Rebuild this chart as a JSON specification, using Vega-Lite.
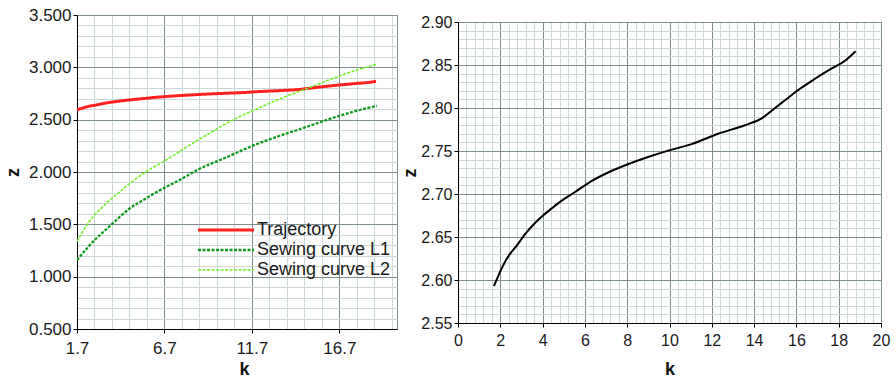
{
  "$schema": "https://vega.github.io/schema/vega-lite/v6.json",
  "background": "white",
  "padding": {"left": 3, "top": 5, "right": 5, "bottom": 2},
  "spacing": 3,
  "config": {
    "font": "Liberation Sans",
    "view": {"stroke": "#7d8c8c"},
    "axis": {
      "labelFont": "Liberation Sans",
      "labelFontSize": 17,
      "labelColor": "#1a1a1a",
      "titleFont": "Liberation Sans",
      "titleFontSize": 18,
      "titleFontWeight": "bold",
      "titleColor": "#111111",
      "domainColor": "#000000",
      "domainWidth": 1,
      "tickColor": "#000000",
      "tickSize": 4,
      "gridWidth": 1,
      "labelOverlap": false,
      "labelFlush": false
    }
  },
  "datasets": {
    "curves": [
      {"series": "Trajectory", "k": 1.70, "z": 2.593},
      {"series": "Trajectory", "k": 1.89, "z": 2.604},
      {"series": "Trajectory", "k": 2.29, "z": 2.624},
      {"series": "Trajectory", "k": 2.84, "z": 2.642},
      {"series": "Trajectory", "k": 3.16, "z": 2.653},
      {"series": "Trajectory", "k": 3.63, "z": 2.666},
      {"series": "Trajectory", "k": 4.02, "z": 2.675},
      {"series": "Trajectory", "k": 4.42, "z": 2.683},
      {"series": "Trajectory", "k": 4.89, "z": 2.692},
      {"series": "Trajectory", "k": 5.52, "z": 2.702},
      {"series": "Trajectory", "k": 6.31, "z": 2.715},
      {"series": "Trajectory", "k": 7.10, "z": 2.725},
      {"series": "Trajectory", "k": 7.97, "z": 2.734},
      {"series": "Trajectory", "k": 8.99, "z": 2.743},
      {"series": "Trajectory", "k": 10.02, "z": 2.751},
      {"series": "Trajectory", "k": 11.04, "z": 2.758},
      {"series": "Trajectory", "k": 12.30, "z": 2.770},
      {"series": "Trajectory", "k": 13.57, "z": 2.780},
      {"series": "Trajectory", "k": 14.36, "z": 2.788},
      {"series": "Trajectory", "k": 14.99, "z": 2.800},
      {"series": "Trajectory", "k": 15.46, "z": 2.809},
      {"series": "Trajectory", "k": 16.09, "z": 2.821},
      {"series": "Trajectory", "k": 16.88, "z": 2.834},
      {"series": "Trajectory", "k": 17.67, "z": 2.846},
      {"series": "Trajectory", "k": 18.30, "z": 2.855},
      {"series": "Trajectory", "k": 18.80, "z": 2.866},
      {"series": "Sewing curve L1", "k": 1.70, "z": 1.158},
      {"series": "Sewing curve L1", "k": 2.37, "z": 1.290},
      {"series": "Sewing curve L1", "k": 3.70, "z": 1.502},
      {"series": "Sewing curve L1", "k": 4.66, "z": 1.645},
      {"series": "Sewing curve L1", "k": 5.62, "z": 1.745},
      {"series": "Sewing curve L1", "k": 6.38, "z": 1.820},
      {"series": "Sewing curve L1", "k": 7.53, "z": 1.920},
      {"series": "Sewing curve L1", "k": 8.67, "z": 2.027},
      {"series": "Sewing curve L1", "k": 10.20, "z": 2.137},
      {"series": "Sewing curve L1", "k": 11.72, "z": 2.249},
      {"series": "Sewing curve L1", "k": 13.25, "z": 2.344},
      {"series": "Sewing curve L1", "k": 14.78, "z": 2.428},
      {"series": "Sewing curve L1", "k": 16.30, "z": 2.515},
      {"series": "Sewing curve L1", "k": 17.65, "z": 2.583},
      {"series": "Sewing curve L1", "k": 18.85, "z": 2.631},
      {"series": "Sewing curve L2", "k": 1.70, "z": 1.335},
      {"series": "Sewing curve L2", "k": 2.37, "z": 1.520},
      {"series": "Sewing curve L2", "k": 3.33, "z": 1.693},
      {"series": "Sewing curve L2", "k": 4.28, "z": 1.830},
      {"series": "Sewing curve L2", "k": 5.62, "z": 2.000},
      {"series": "Sewing curve L2", "k": 6.76, "z": 2.110},
      {"series": "Sewing curve L2", "k": 7.91, "z": 2.233},
      {"series": "Sewing curve L2", "k": 9.43, "z": 2.385},
      {"series": "Sewing curve L2", "k": 10.58, "z": 2.495},
      {"series": "Sewing curve L2", "k": 11.72, "z": 2.583},
      {"series": "Sewing curve L2", "k": 13.25, "z": 2.695},
      {"series": "Sewing curve L2", "k": 14.78, "z": 2.793},
      {"series": "Sewing curve L2", "k": 16.30, "z": 2.891},
      {"series": "Sewing curve L2", "k": 17.65, "z": 2.971},
      {"series": "Sewing curve L2", "k": 18.85, "z": 3.029}
    ]
  },
  "hconcat": [
    {
      "width": 320,
      "height": 314,
      "data": {"name": "curves"},
      "mark": {"type": "line", "interpolate": "monotone", "clip": true},
      "encoding": {
        "x": {
          "field": "k",
          "type": "quantitative",
          "scale": {"domain": [1.7, 20], "nice": false, "zero": false},
          "axis": {
            "title": "k",
            "titleX": 167,
            "titlePadding": 4,
            "labelPadding": 7,
            "values": [1.7, 2.7, 3.7, 4.7, 5.7, 6.7, 7.7, 8.7, 9.7, 10.7, 11.7, 12.7, 13.7, 14.7, 15.7, 16.7, 17.7, 18.7, 19.7],
            "labelExpr": "abs((datum.value - 1.7) / 5 - round((datum.value - 1.7) / 5)) < 0.01 ? format(datum.value, '.1f') : ''",
            "gridColor": {"condition": {"test": "abs((datum.value - 1.7) / 5 - round((datum.value - 1.7) / 5)) < 0.01", "value": "#7d8c8c"}, "value": "#cbd8d7"},
            "tickOpacity": {"condition": {"test": "abs((datum.value - 1.7) / 5 - round((datum.value - 1.7) / 5)) < 0.01", "value": 1}, "value": 0}
          }
        },
        "y": {
          "field": "z",
          "type": "quantitative",
          "scale": {"domain": [0.5, 3.5], "nice": false, "zero": false},
          "axis": {
            "title": "z",
            "titlePadding": 6,
            "labelPadding": 2,
            "values": [0.5, 0.6, 0.7, 0.8, 0.9, 1.0, 1.1, 1.2, 1.3, 1.4, 1.5, 1.6, 1.7, 1.8, 1.9, 2.0, 2.1, 2.2, 2.3, 2.4, 2.5, 2.6, 2.7, 2.8, 2.9, 3.0, 3.1, 3.2, 3.3, 3.4, 3.5],
            "labelExpr": "abs(datum.value * 2 - round(datum.value * 2)) < 0.01 ? format(datum.value, '.3f') : ''",
            "gridColor": {"condition": {"test": "abs(datum.value * 2 - round(datum.value * 2)) < 0.01", "value": "#7d8c8c"}, "value": "#cbd8d7"},
            "tickOpacity": {"condition": {"test": "abs(datum.value * 2 - round(datum.value * 2)) < 0.01", "value": 1}, "value": 0}
          }
        },
        "color": {
          "field": "series",
          "type": "nominal",
          "scale": {"domain": ["Trajectory", "Sewing curve L1", "Sewing curve L2"], "range": ["#ff2020", "#12991f", "#72f02a"]},
          "legend": {
            "title": null,
            "orient": "none",
            "legendX": 140,
            "legendY": 206,
            "symbolType": "M-4,0H4",
            "symbolSize": 196,
            "symbolStrokeWidth": 3,
            "labelFont": "Liberation Sans",
            "labelFontSize": 18,
            "labelColor": "#1a1a1a",
            "labelOffset": 22,
            "rowPadding": 2,
            "encode": {
              "symbols": {
                "update": {
                  "strokeDash": {"signal": "datum.value === 'Trajectory' ? [1, 0] : [5, 6]"},
                  "strokeWidth": {"signal": "datum.value === 'Trajectory' ? 4.5 : 3"}
                }
              }
            }
          }
        },
        "strokeDash": {
          "field": "series",
          "type": "nominal",
          "scale": {"domain": ["Trajectory", "Sewing curve L1", "Sewing curve L2"], "range": [[1, 0], [3, 1.5], [3, 1.5]]},
          "legend": null
        },
        "strokeWidth": {
          "field": "series",
          "type": "nominal",
          "scale": {"domain": ["Trajectory", "Sewing curve L1", "Sewing curve L2"], "range": [3, 1.6, 1.6]},
          "legend": null
        }
      }
    },
    {
      "spacing": -3,
      "vconcat": [
        {
          "width": 423,
          "height": 1,
          "data": {"values": []},
          "mark": "point",
          "view": {"stroke": null}
        },
        {
          "width": 423,
          "height": 301,
          "data": {"name": "curves"},
          "transform": [{"filter": "datum.series === 'Trajectory'"}],
          "mark": {"type": "line", "interpolate": "monotone", "color": "#000000", "strokeWidth": 2},
          "encoding": {
            "x": {
              "field": "k",
              "type": "quantitative",
              "scale": {"domain": [0, 20], "nice": false, "zero": false},
              "axis": {
                "title": "k",
                "titlePadding": 12,
                "labelPadding": 5,
                "labelFontSize": 16,
                "values": [0, 0.4, 0.8, 1.2, 1.6, 2, 2.4, 2.8, 3.2, 3.6, 4, 4.4, 4.8, 5.2, 5.6, 6, 6.4, 6.8, 7.2, 7.6, 8, 8.4, 8.8, 9.2, 9.6, 10, 10.4, 10.8, 11.2, 11.6, 12, 12.4, 12.8, 13.2, 13.6, 14, 14.4, 14.8, 15.2, 15.6, 16, 16.4, 16.8, 17.2, 17.6, 18, 18.4, 18.8, 19.2, 19.6, 20],
                "labelExpr": "abs(datum.value / 2 - round(datum.value / 2)) < 0.01 ? format(datum.value, 'd') : ''",
                "gridColor": {"condition": {"test": "abs(datum.value / 2 - round(datum.value / 2)) < 0.01", "value": "#7d8c8c"}, "value": "#cbd8d7"},
                "tickOpacity": {"condition": {"test": "abs(datum.value / 2 - round(datum.value / 2)) < 0.01", "value": 1}, "value": 0}
              }
            },
            "y": {
              "field": "z",
              "type": "quantitative",
              "scale": {"domain": [2.55, 2.9], "nice": false, "zero": false},
              "axis": {
                "title": "z",
                "titlePadding": 1,
                "labelPadding": 2,
                "labelFontSize": 16,
                "values": [2.55, 2.56, 2.57, 2.58, 2.59, 2.6, 2.61, 2.62, 2.63, 2.64, 2.65, 2.66, 2.67, 2.68, 2.69, 2.7, 2.71, 2.72, 2.73, 2.74, 2.75, 2.76, 2.77, 2.78, 2.79, 2.8, 2.81, 2.82, 2.83, 2.84, 2.85, 2.86, 2.87, 2.88, 2.89, 2.9],
                "labelExpr": "abs(datum.value * 20 - round(datum.value * 20)) < 0.01 ? format(datum.value, '.2f') : ''",
                "gridColor": {"condition": {"test": "abs(datum.value * 20 - round(datum.value * 20)) < 0.01", "value": "#7d8c8c"}, "value": "#cbd8d7"},
                "tickOpacity": {"condition": {"test": "abs(datum.value * 20 - round(datum.value * 20)) < 0.01", "value": 1}, "value": 0}
              }
            }
          }
        }
      ]
    }
  ]
}
